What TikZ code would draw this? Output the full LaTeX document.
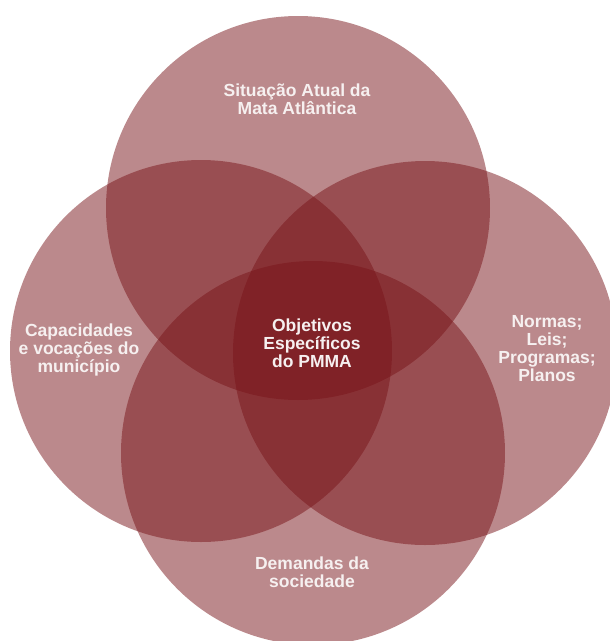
\documentclass[tikz,border=0pt]{standalone}
\usepackage{fontspec}
\setsansfont{Liberation Sans}
\usepackage{tikz}
\definecolor{matared}{RGB}{120,20,25}
\definecolor{labelwhite}{RGB}{246,240,240}

\begin{document}
\begin{tikzpicture}[
        x=1pt, y=-1pt,
        font=\sffamily\bfseries\fontsize{17.5}{18}\selectfont,
        petal/.style={fill=matared, fill opacity=0.5},
        lbl/.style={text=labelwhite, align=center, inner sep=0pt}
    ]
        \useasboundingbox (0,0) rectangle (610,641);
        \clip (0,0) rectangle (610,641);

        % four overlapping circles
        \fill[petal] (298,208) circle[radius=192];
        \fill[petal] (201,351) circle[radius=191];
        \fill[petal] (425,353) circle[radius=192];
        \fill[petal] (313,453) circle[radius=192];

        \node[lbl] (situacao) at (297,99) {Situação Atual da\\Mata Atlântica};
        \node[lbl] (capacidades) at (79,350) {Capacidades\\e vocações do\\município};
        \node[lbl] (normas) at (547,349) {Normas;\\Leis;\\Programas;\\Planos};
        \node[lbl] (demandas) at (312,572) {Demandas da\\sociedade};
        \node[lbl] (objetivos) at (312,343) {Objetivos\\Específicos\\do PMMA};
    \end{tikzpicture}
\end{document}
